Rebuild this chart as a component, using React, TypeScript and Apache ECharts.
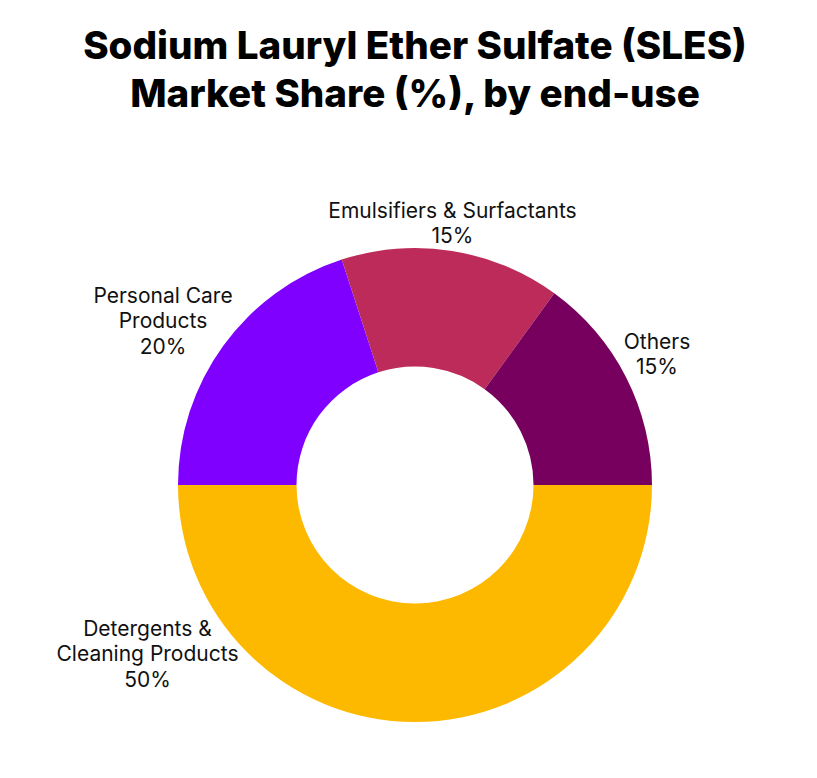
import React, { useEffect, useRef } from "react";
import * as echarts from "echarts";

const titleLines = ["Sodium Lauryl Ether Sulfate (SLES)", "Market Share (%), by end-use"];
const categories = ["Personal Care Products", "Emulsifiers & Surfactants", "Others", "Detergents & Cleaning Products"];
const labelTexts = ["Personal Care\nProducts", "Emulsifiers & Surfactants", "Others", "Detergents &\nCleaning Products"];
const shares = [20, 15, 15, 50];
const colors = ["#7F00FF", "#BD2B5A", "#77005E", "#FDB900"];

// label anchor offsets from pie centre (px)
const labelOffsets: [number, number][] = [
  [-252, -164.5],
  [37.5, -262],
  [242, -131],
  [-267.5, 168.5],
];

const CX = 407;
const CY = 477;

export default function App() {
  const ref = useRef<HTMLDivElement>(null);
  useEffect(() => {
    if (!ref.current) return;
    const chart = echarts.init(ref.current, null, { renderer: "svg" });
    chart.setOption({
      animation: false,
      backgroundColor: "#ffffff",
      title: {
        text: titleLines.join("\n"),
        left: CX - 5,
        textAlign: "center",
        top: 8,
        textStyle: {
          fontFamily: "Inter",
          fontWeight: 800,
          fontSize: 38.6,
          lineHeight: 48,
          color: "#000000",
        },
      },
      series: [
        {
          type: "pie",
          center: [CX, CY],
          radius: [118.5, 237],
          startAngle: 180,
          clockwise: true,
          avoidLabelOverlap: false,
          itemStyle: { borderWidth: 0 },
          label: {
            show: true,
            position: "outside",
            fontFamily: "Inter",
            fontSize: 21,
            lineHeight: 25.5,
            color: "#111111",
            formatter: (p: any) => `${labelTexts[p.dataIndex]}\n${p.value}%`,
          },
          labelLine: { show: false },
          labelLayout: (p: any) => ({
            x: CX + labelOffsets[p.dataIndex][0],
            y: CY + labelOffsets[p.dataIndex][1],
            align: "center",
            verticalAlign: "middle",
          }),
          emphasis: { disabled: true },
          data: categories.map((name, i) => ({
            name,
            value: shares[i],
            itemStyle: { color: colors[i] },
          })),
        },
      ],
    });
    return () => chart.dispose();
  }, []);
  return <div ref={ref} style={{ width: 801, height: 762 }} />;
}
